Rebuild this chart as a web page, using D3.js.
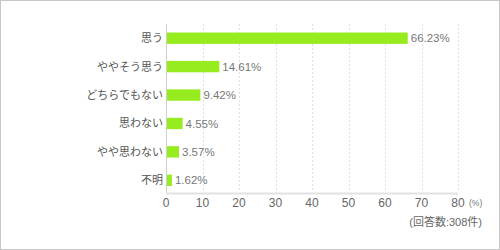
<!DOCTYPE html>
<html>
<head>
<meta charset="utf-8">
<script src="https://cdn.jsdelivr.net/npm/d3@7"></script>
<style>
  html, body { margin: 0; padding: 0; background: #fff; }
  svg { display: block; }
</style>
</head>
<body>
<div id="chart"></div>
<script>
// Survey answers (percent)
const categories = ['思う', 'ややそう思う', 'どちらでもない', '思わない', 'やや思わない', '不明'];
const values = [66.23, 14.61, 9.42, 4.55, 3.57, 1.62];
const xTicks = [0, 10, 20, 30, 40, 50, 60, 70, 80];
const unitLabel = '(%)';
const noteLabel = '(回答数:308件)';

const width = 500;
const height = 250;
const fontFamily = '"Liberation Sans", "Noto Sans CJK JP", sans-serif';

const svg = d3.select('#chart').append('svg')
  .attr('width', width)
  .attr('height', height)
  .style('font-family', fontFamily);

// Frame
svg.append('rect')
  .attr('x', 0.5).attr('y', 0.5)
  .attr('width', width - 1).attr('height', height - 1)
  .attr('fill', '#fff')
  .attr('stroke', '#c8c8c8');

const x = d3.scaleLinear().domain([0, 80]).range([166, 458]);
const y = d3.scaleBand()
  .domain(categories)
  .range([24, 194.5])
  .paddingInner(0.6)
  .paddingOuter(0.3);

// Dashed vertical grid
svg.append('g')
  .selectAll('line')
  .data(xTicks.filter(d => d > 0))
  .join('line')
  .attr('x1', d => Math.round(x(d)) + 0.5)
  .attr('x2', d => Math.round(x(d)) + 0.5)
  .attr('y1', 24)
  .attr('y2', 192)
  .attr('stroke', '#e0e0e0')
  .attr('stroke-dasharray', '2,2');

// Bars
svg.append('g')
  .selectAll('rect')
  .data(values)
  .join('rect')
  .attr('x', x(0) + 1)
  .attr('y', (d, i) => y(categories[i]))
  .attr('width', d => x(d) - x(0) - 1)
  .attr('height', y.bandwidth())
  .attr('fill', '#96ec1e');

// Value labels
svg.append('g')
  .selectAll('text')
  .data(values)
  .join('text')
  .attr('x', d => x(d) + 3)
  .attr('y', (d, i) => y(categories[i]) + y.bandwidth() / 2)
  .attr('dy', '0.36em')
  .attr('font-size', 11.5)
  .attr('fill', '#777')
  .text(d => d.toFixed(2) + '%');

// Category labels
svg.append('g')
  .selectAll('text')
  .data(categories)
  .join('text')
  .attr('x', 163)
  .attr('y', d => y(d) + y.bandwidth() / 2)
  .attr('dy', '0.36em')
  .attr('text-anchor', 'end')
  .attr('font-size', 11)
  .attr('fill', '#555')
  .text(d => d);

// Left axis line
svg.append('line')
  .attr('x1', 166.5).attr('x2', 166.5)
  .attr('y1', 24).attr('y2', 194)
  .attr('stroke', '#cfcfcf');

// Bottom axis line
svg.append('line')
  .attr('x1', 166).attr('x2', 458)
  .attr('y1', 193.5).attr('y2', 193.5)
  .attr('stroke', '#e2e2e2')
  .attr('stroke-width', 2);

// X tick labels
svg.append('g')
  .selectAll('text')
  .data(xTicks)
  .join('text')
  .attr('x', d => x(d))
  .attr('y', 203)
  .attr('dy', '0.36em')
  .attr('text-anchor', 'middle')
  .attr('font-size', 12)
  .attr('fill', '#666')
  .text(d => d);

svg.append('text')
  .attr('x', 469)
  .attr('y', 203)
  .attr('dy', '0.36em')
  .attr('font-size', 8.5)
  .attr('fill', '#777')
  .text(unitLabel);

svg.append('text')
  .attr('x', 482)
  .attr('y', 222)
  .attr('dy', '0.36em')
  .attr('text-anchor', 'end')
  .attr('font-size', 11)
  .attr('fill', '#666')
  .text(noteLabel);
</script>
</body>
</html>
